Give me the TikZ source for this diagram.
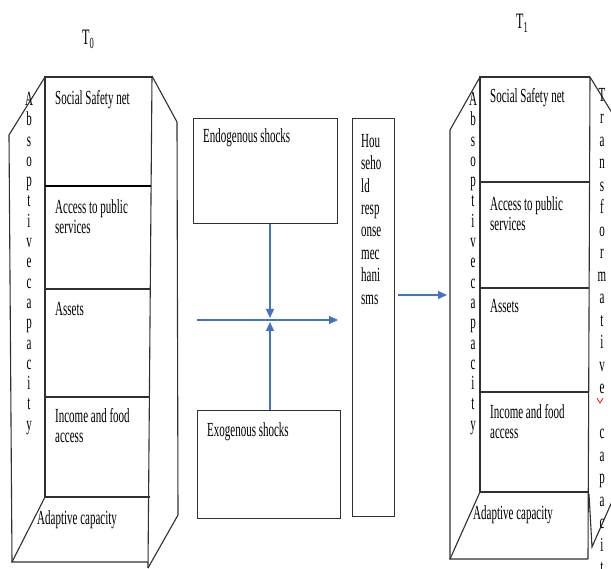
\documentclass[tikz,border=0pt]{standalone}
\usepackage{fontspec}
\setmainfont{Liberation Serif}[FakeStretch=0.55]
\usetikzlibrary{arrows.meta,calc}
\definecolor{arrowblue}{HTML}{4472C4}
\definecolor{edgecol}{HTML}{303030}
\begin{document}
\begin{tikzpicture}[x=1pt,y=-1pt,
  edge/.style={draw=edgecol, line width=1.1pt, line join=miter},
  boldedge/.style={draw=black, line width=2.6pt},
  txt/.style={anchor=base west, inner sep=0pt, font=\fontsize{20}{20}\selectfont},
  txtml/.style={anchor=north west, inner sep=0pt, align=left, font=\fontsize{20}{20}\selectfont},
  lettercol/.style={anchor=north, inner sep=0pt, align=center, font=\fontsize{20}{20.3}\selectfont},
  lettercolb/.style={anchor=north, inner sep=0pt, align=center, font=\fontsize{20}{22.5}\selectfont},
  shockbox/.style={draw=edgecol, line width=1.1pt, anchor=north west, inner sep=0pt},
  arr/.style={draw=arrowblue, line width=1.4pt, -{Triangle[length=9pt,width=8pt]}},
  tlabel/.style={anchor=base west, inner sep=0pt, font=\fontsize{22}{22}\selectfont}
]
\useasboundingbox (0,0) rectangle (611,569);

% ---------------- Titles
\node[tlabel] (tzero) at (82,45) {T\textsubscript{0}};
\node[tlabel] (tone) at (516,29) {T\textsubscript{1}};

% ---------------- T0 block
% front panel
\draw[edge] (45,497) -- (45,77) -- (152,77);
\draw[edge] (152,76) -- (148,568);
\draw[boldedge] (45,186) -- (151,186);
\draw[edge] (45,289) -- (151,289);
\draw[edge] (45,397) -- (150,397);
\draw[edge] (45,497) -- (150,497);
% floor
\draw[edge] (45,497) -- (12,562) -- (148,562);
% left panel
\draw[edge] (45,77) -- (9,135) -- (12,562);
% right panel
\draw[edge] (152,76) -- (177,122) -- (178,515) -- (148,568);

\node[txt] (azssn) at (55,105) {Social Safety net};
\node[txtml] (azaps) at (55,199) {Access to public\\services};
\node[txt] (azast) at (55,316) {Assets};
\node[txtml] (azinc) at (55,408) {Income and food\\access};
\node[txt] (azadp) at (37,524) {Adaptive capacity};
\node[lettercol] (azabs) at (29,92) {A\\b\\s\\o\\p\\t\\i\\v\\e\\c\\a\\p\\a\\c\\i\\t\\y};

% ---------------- Middle
\node[shockbox, minimum width=144pt, minimum height=105pt] (endo) at (193,118) {};
\node[txt] (endotxt) at ($(endo.north west)+(10,25)$) {Endogenous shocks};
\node[shockbox, minimum width=143pt, minimum height=108pt] (exo) at (197,410) {};
\node[txt] (exotxt) at ($(exo.north west)+(10,27)$) {Exogenous shocks};
\node[shockbox, minimum width=42pt, minimum height=398pt] (hh) at (352,118) {};
\node[txtml, font=\fontsize{20}{22.4}\selectfont] (hhtxt) at ($(hh.north west)+(9,16)$) {Hou\\seho\\ld\\resp\\onse\\mec\\hani\\sms};

\coordinate (cross) at (270,320);
\coordinate (hstart) at (197,320);
\coordinate (hend) at (338,320);
\draw[arr] (endo.south -| cross) -- ($(cross)+(0,-2)$);
\draw[arr] (exo.north -| cross) -- ($(cross)+(0,2)$);
\draw[arr] (hstart) -- (hend);

\coordinate (outstart) at (398,295);
\coordinate (outend) at (447,295);
\draw[arr] (outstart) -- (outend);

% ---------------- T1 block
\draw[edge] (480,492) -- (480,77) -- (590,77);
\draw[edge] (590,77) -- (588,559);
\draw[edge] (480,182) -- (589,182);
\draw[edge] (480,288) -- (589,288);
\draw[edge] (480,392) -- (589,392);
\draw[edge] (480,492) -- (588,492);
% floor
\draw[edge] (480,492) -- (450,559) -- (588,559);
% left panel
\draw[edge] (480,77) -- (450,130) -- (450,559);
% right panel
\draw[edge] (590,77) -- (617,121);
\draw[edge] (589,494) -- (592,547) -- (614,497);

\node[txt] (aossn) at (490,103) {Social Safety net};
\node[txtml] (aoaps) at (490,196) {Access to public\\services};
\node[txt] (aoast) at (490,313) {Assets};
\node[txtml] (aoinc) at (490,404) {Income and food\\access};
\node[txt] (aoadp) at (473,519) {Adaptive capacity};
\node[lettercol] (aoabs) at (473,92) {A\\b\\s\\o\\p\\t\\i\\v\\e\\c\\a\\p\\a\\c\\i\\t\\y};
\node[lettercolb] (aotrf) at (602,88) {T\\r\\a\\n\\s\\f\\o\\r\\m\\a\\t\\i\\v\\e\\[22.5pt]c\\a\\p\\a\\c\\i\\t\\y};
\draw[red, line width=0.7pt] (597,398) -- (600,403) -- (603,398);

\end{tikzpicture}
\end{document}
